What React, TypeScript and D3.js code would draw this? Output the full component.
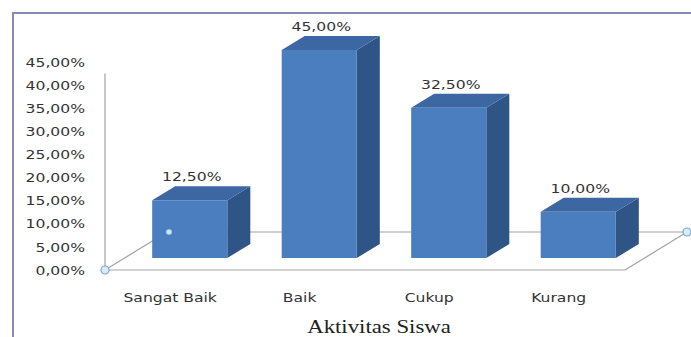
import React from "react";
import * as d3 from "d3";

const categories = ["Sangat Baik", "Baik", "Cukup", "Kurang"];
const values = [12.5, 45.0, 32.5, 10.0];
const yTicks = [0, 5, 10, 15, 20, 25, 30, 35, 40, 45];
const axisTitle = "Aktivitas Siswa";

const W = 691;
const H = 337;
const fmt = (v: number) => d3.format(".2f")(v).replace(".", ",") + "%";

export default function App() {
  // front plane scale (axis labels)
  const yFront = d3.scaleLinear().domain([0, 45]).range([270, 62]);
  // floor depth
  const depthDx = 62, depthDy = -38;
  const barDepthFrac = 0.316;
  const barShiftX = depthDx * barDepthFrac;
  const barShiftY = depthDy * barDepthFrac;
  const yBar = (v: number) => yFront(v) + barShiftY;
  const x = d3.scaleBand<string>().domain(categories).range([125, 643]).paddingInner(0.42).paddingOuter(0.21);
  const bw = x.bandwidth();
  const bdx = 23, bdy = -14;

  const floorL = 105, floorR = 625;
  const y0 = yFront(0);
  const scaleX = 1.2;
  const font = "DejaVu Sans, sans-serif";
  const lineC = "#a3a3a3";

  return (
    <svg width={W} height={H} style={{ position: "absolute", left: 0, top: 0, background: "#fff" }}>
      <rect x={13} y={13} width={760} height={400} fill="#fff" stroke="#8a8ab6" strokeWidth={2} />
      {/* vertical axis line */}
      <line x1={floorL} y1={yFront(42.5)} x2={floorL} y2={y0} stroke={lineC} strokeWidth={1.2} />
      {/* floor */}
      <line x1={floorL} y1={y0} x2={floorL + depthDx} y2={y0 + depthDy} stroke={lineC} strokeWidth={1.2} />
      <line x1={floorL + depthDx} y1={y0 + depthDy} x2={floorR + depthDx} y2={y0 + depthDy} stroke={lineC} strokeWidth={1.2} />
      <line x1={floorL} y1={y0} x2={floorR} y2={y0} stroke={lineC} strokeWidth={1.2} />
      <line x1={floorR} y1={y0} x2={floorR + depthDx} y2={y0 + depthDy} stroke={lineC} strokeWidth={1.2} />
      {/* bars */}
      {categories.map((c, i) => {
        const xl = x(c) as number;
        const xr = xl + bw;
        const yt = yBar(values[i]);
        const yb = yBar(0);
        const front = `M${xl},${yt}L${xr},${yt}L${xr},${yb}L${xl},${yb}Z`;
        const top = `M${xl},${yt}L${xl + bdx},${yt + bdy}L${xr + bdx},${yt + bdy}L${xr},${yt}Z`;
        const side = `M${xr},${yt}L${xr + bdx},${yt + bdy}L${xr + bdx},${yb + bdy}L${xr},${yb}Z`;
        return (
          <g key={c}>
            <path d={side} fill="#2f5587" />
            <path d={top} fill="#3c67a3" />
            <path d={front} fill="#4a7ebf" />
          </g>
        );
      })}
      {/* markers */}
      <circle cx={floorL} cy={y0} r={4} fill="#d6ecf8" stroke="#7ea6c6" strokeWidth={1.2} />
      <circle cx={floorR + depthDx} cy={y0 + depthDy} r={4} fill="#d6ecf8" stroke="#7ea6c6" strokeWidth={1.2} />
      <circle cx={floorL + depthDx + 2} cy={y0 + depthDy} r={2.8} fill="#c4e4f7" />
      {/* y tick labels */}
      {yTicks.map((t) => (
        <text key={t} transform={`translate(85,${yFront(t)}) scale(${scaleX},1)`} dy="0.36em" textAnchor="end"
          fontFamily={font} fontSize={13} fill="#333">{fmt(t)}</text>
      ))}
      {/* value labels */}
      {categories.map((c, i) => {
        const cx = (x(c) as number) + bw / 2 + 2;
        const yt = yBar(values[i]) + bdy - 5;
        return (
          <text key={c} transform={`translate(${cx},${yt}) scale(${scaleX},1)`} textAnchor="middle"
            fontFamily={font} fontSize={13} fill="#333">{fmt(values[i])}</text>
        );
      })}
      {/* category labels */}
      {categories.map((c) => (
        <text key={c} transform={`translate(${(x(c) as number) + bw / 2 - barShiftX},302) scale(${scaleX},1)`} textAnchor="middle"
          fontFamily={font} fontSize={13} fill="#333">{c}</text>
      ))}
      <text transform={`translate(379,333) scale(1.2,1)`} textAnchor="middle" fontFamily="Liberation Serif, serif" fontSize={19} fill="#222">{axisTitle}</text>
    </svg>
  );
}
